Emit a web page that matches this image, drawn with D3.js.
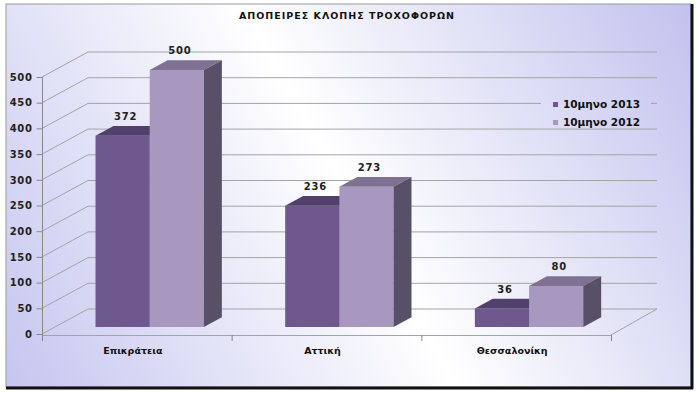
<!DOCTYPE html>
<html>
<head>
<meta charset="utf-8">
<script src="https://cdn.jsdelivr.net/npm/d3@7"></script>
<style>
  body { margin: 0; background: #fff; }
  text { font-family: "DejaVu Sans", Verdana, sans-serif; }
</style>
</head>
<body>
<div id="chart"></div>
<script>
const categories = ["Επικράτεια", "Αττική", "Θεσσαλονίκη"];
const seriesNames = ["10μηνο 2013", "10μηνο 2012"];
const values2013 = [372, 236, 36];
const values2012 = [500, 273, 80];
const yTicks = [0, 50, 100, 150, 200, 250, 300, 350, 400, 450, 500];
const title = "ΑΠΟΠΕΙΡΕΣ ΚΛΟΠΗΣ ΤΡΟΧΟΦΟΡΩΝ";

const width = 700, height = 393;
const depth = { dx: 46, dy: -25 };

const svg = d3.select("#chart").append("svg")
  .attr("width", width).attr("height", height);

// Background gradient
const defs = svg.append("defs");
const grad = defs.append("linearGradient")
  .attr("id", "bg").attr("gradientUnits", "userSpaceOnUse")
  .attr("x1", 0).attr("y1", 393).attr("x2", 700).attr("y2", 0);
grad.append("stop").attr("offset", 0).attr("stop-color", "#c4c4f0");
grad.append("stop").attr("offset", 0.5).attr("stop-color", "#ffffff");
grad.append("stop").attr("offset", 1).attr("stop-color", "#c0c0ee");

svg.append("rect").attr("x", 6).attr("y", 4).attr("width", 685).attr("height", 383)
  .attr("fill", "url(#bg)").attr("stroke", "#9a9a9a").attr("stroke-width", 1);
// frame shadow
svg.append("line").attr("x1", 692).attr("y1", 4).attr("x2", 692).attr("y2", 389)
  .attr("stroke", "#111").attr("stroke-width", 3);
svg.append("line").attr("x1", 6).attr("y1", 388).attr("x2", 693).attr("y2", 388)
  .attr("stroke", "#111").attr("stroke-width", 3);

// Scales
const y = d3.scaleLinear().domain([0, 500]).range([334, 77]);
const x = d3.scaleBand().domain(categories).range([42, 611]);
const x1 = d3.scaleBand().domain(seriesNames).range([0, x.bandwidth()]).paddingOuter(0.75);

const proj = (xf, v, z) => [xf + z * depth.dx, y(v) + z * depth.dy];
const poly = pts => "M" + pts.map(p => p.join(",")).join("L") + "Z";

const grid = svg.append("g").attr("stroke", "#a4a4a4").attr("stroke-width", 1).attr("fill", "none");

// left wall diagonals and back wall gridlines
yTicks.forEach(t => {
  const a = proj(42, t, 0), b = proj(42, t, 1), c = proj(611, t, 1);
  grid.append("path").attr("d", `M${a[0]},${a[1]}L${b[0]},${b[1]}L${c[0]},${c[1]}`);
});
// floor right edge and front edge
{
  const a = proj(611, 0, 1), b = proj(611, 0, 0);
  grid.append("path").attr("d", `M${a[0]},${a[1]}L${b[0]},${b[1] + 1}`);
  grid.append("line").attr("x1", 42).attr("y1", 335.5).attr("x2", 611).attr("y2", 335.5);
}

// Y axis
const yAxis = svg.append("g").attr("transform", "translate(42.5,0)")
  .call(d3.axisLeft(y).tickValues(yTicks).tickSize(6).tickPadding(4));
yAxis.select(".domain").attr("stroke", "#888").attr("d", "M0,77V339");
yAxis.selectAll(".tick line").attr("stroke", "#888");
yAxis.selectAll(".tick text").attr("fill", "#222").attr("font-size", 10)
  .attr("font-weight", "bold").attr("letter-spacing", 0.6)
  .attr("font-family", "DejaVu Sans, sans-serif");

// category ticks
const catTicks = [42].concat(categories.map(c => x(c) + x.bandwidth()));
svg.append("g").selectAll("line").data(catTicks).join("line")
  .attr("x1", d => d + 0.5).attr("x2", d => d + 0.5)
  .attr("y1", 335).attr("y2", 341).attr("stroke", "#888");

// category labels
svg.append("g").selectAll("text").data(categories).join("text")
  .attr("x", d => x(d) + x.bandwidth() / 2 - 4).attr("y", 354)
  .attr("text-anchor", "middle").attr("font-size", 9.5).attr("font-weight", "bold")
  .attr("fill", "#111").text(d => d);

// Legend background (absolute coords so the gradient lines up)
svg.append("rect").attr("x", 541).attr("y", 92).attr("width", 110).attr("height", 35)
  .attr("fill", "url(#bg)");

// Bars
const zFront = 0.28, zBack = 0.67;
const colors = {
  "10μηνο 2013": { front: "#6e588e", top: "#51406b", side: "#4a3d5e" },
  "10μηνο 2012": { front: "#a898c0", top: "#7e7192", side: "#575066" }
};
const barData = [];
categories.forEach((c, i) => {
  barData.push({ cat: c, s: seriesNames[0], v: values2013[i] });
  barData.push({ cat: c, s: seriesNames[1], v: values2012[i] });
});

const bars = svg.append("g");
barData.forEach(d => {
  const xl = x(d.cat) + x1(d.s), xr = xl + x1.bandwidth();
  const col = colors[d.s];
  const g = bars.append("g");
  g.append("path").attr("fill", col.front)
    .attr("d", poly([proj(xl, 0, zFront), proj(xr, 0, zFront), proj(xr, d.v, zFront), proj(xl, d.v, zFront)]));
  g.append("path").attr("fill", col.top)
    .attr("d", poly([proj(xl, d.v, zFront), proj(xr, d.v, zFront), proj(xr, d.v, zBack), proj(xl, d.v, zBack)]));
  g.append("path").attr("fill", col.side)
    .attr("d", poly([proj(xr, 0, zFront), proj(xr, 0, zBack), proj(xr, d.v, zBack), proj(xr, d.v, zFront)]));
  const lf = proj((xl + xr) / 2, d.v, zFront), lb = proj(xl, d.v, zBack);
  g.append("text").attr("x", lf[0] + 3).attr("y", lb[1] - 6)
    .attr("text-anchor", "middle").attr("font-size", 10).attr("font-weight", "bold")
    .attr("letter-spacing", 0.8).attr("fill", "#222").text(d.v);
});

// Legend
const legend = svg.append("g").attr("transform", "translate(541,92)");
seriesNames.forEach((s, i) => {
  legend.append("rect").attr("x", 12).attr("y", 10 + i * 18).attr("width", 5).attr("height", 5)
    .attr("fill", colors[s].front);
  legend.append("text").attr("x", 22).attr("y", 16 + i * 18)
    .attr("font-size", 10.5).attr("font-weight", "bold").attr("fill", "#111").text(s);
});

// Title
svg.append("text").attr("x", 347).attr("y", 19).attr("text-anchor", "middle")
  .attr("font-size", 9.5).attr("font-weight", "bold").attr("letter-spacing", 1)
  .attr("fill", "#111").text(title);
</script>
</body>
</html>
